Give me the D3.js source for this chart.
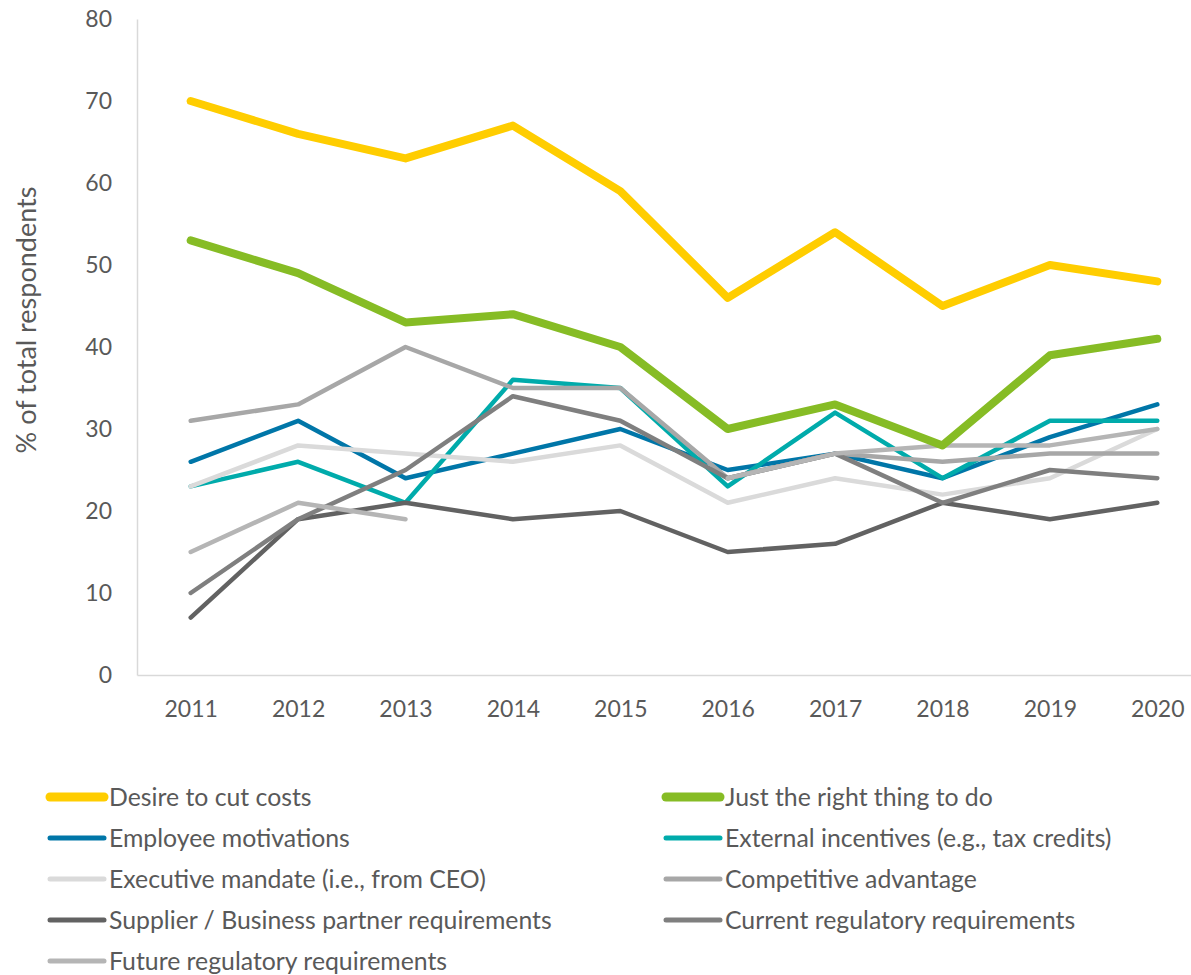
<!DOCTYPE html>
<html>
<head>
<meta charset="utf-8">
<script src="https://cdn.jsdelivr.net/npm/d3@7"></script>
<style>
  html, body { margin: 0; padding: 0; background: #fff; }
  svg { display: block; font-family: Lato, "Open Sans", sans-serif; }
</style>
</head>
<body>
<svg id="chart" width="1191" height="975"></svg>
<script>
const years = ["2011","2012","2013","2014","2015","2016","2017","2018","2019","2020"];
const yTicks = [0,10,20,30,40,50,60,70,80];
const seriesNames = [
  "Desire to cut costs",
  "Just the right thing to do",
  "Employee motivations",
  "External incentives (e.g., tax credits)",
  "Executive mandate (i.e., from CEO)",
  "Competitive advantage",
  "Supplier / Business partner requirements",
  "Current regulatory requirements",
  "Future regulatory requirements"
];
const desireToCutCosts   = [70, 66, 63, 67, 59, 46, 54, 45, 50, 48];
const rightThingToDo     = [53, 49, 43, 44, 40, 30, 33, 28, 39, 41];
const employeeMotivations= [26, 31, 24, 27, 30, 25, 27, 24, 29, 33];
const externalIncentives = [23, 26, 21, 36, 35, 23, 32, 24, 31, 31];
const executiveMandate   = [23, 28, 27, 26, 28, 21, 24, 22, 24, 30];
const competitiveAdv     = [31, 33, 40, 35, 35, 24, 27, 26, 27, 27];
const supplierReqs       = [7, 19, 21, 19, 20, 15, 16, 21, 19, 21];
const currentRegReqs     = [10, 19, 25, 34, 31, 24, 27, 21, 25, 24];
const futureRegReqs      = [15, 21, 19, null, null, 24, 27, 28, 28, 30];

const seriesValues = [desireToCutCosts, rightThingToDo, employeeMotivations, externalIncentives,
  executiveMandate, competitiveAdv, supplierReqs, currentRegReqs, futureRegReqs];
const colors = ["#FFCD00","#86BC25","#0076A8","#00ABAB","#DADADA","#A7A7A7","#626262","#7F7F7F","#B5B5B5"];
const widths = [8, 8, 4.5, 4.5, 4.5, 4.5, 4.5, 4.5, 4.5];

const svg = d3.select("#chart");
const x = d3.scalePoint().domain(years).range([137, 1211]).padding(0.5);
const y = d3.scaleLinear().domain([0, 80]).range([675, 19]);

// axes
const gy = svg.append("g").attr("transform", "translate(137,0)")
  .call(d3.axisLeft(y).tickValues(yTicks).tickSize(0).tickPadding(25));
gy.select(".domain").attr("stroke", "#D9D9D9").attr("stroke-width", 1.5);
gy.selectAll("text").attr("font-size", 23).attr("fill", "#595959").attr("font-family", "Lato, sans-serif");

const gx = svg.append("g").attr("transform", "translate(0,675)")
  .call(d3.axisBottom(x).tickSize(0).tickPadding(26));
gx.select(".domain").attr("stroke", "#D9D9D9").attr("stroke-width", 1.5);
gx.selectAll("text").attr("font-size", 23).attr("fill", "#595959").attr("font-family", "Lato, sans-serif");

svg.append("text")
  .attr("transform", "translate(36,320) rotate(-90)")
  .attr("text-anchor", "middle")
  .attr("font-size", 27).attr("fill", "#595959")
  .text("% of total respondents");

const line = d3.line()
  .defined(d => d.v !== null)
  .x(d => x(d.year)).y(d => y(d.v));

const order = [2,3,4,5,6,7,8,1,0];
order.forEach(i => {
  const data = years.map((yr, j) => ({year: yr, v: seriesValues[i][j]}));
  svg.append("path")
    .datum(data)
    .attr("fill", "none")
    .attr("stroke", colors[i])
    .attr("stroke-width", widths[i])
    .attr("stroke-linecap", "round")
    .attr("stroke-linejoin", "round")
    .attr("d", line);
});

// legend
const legend = svg.append("g");
seriesNames.forEach((name, i) => {
  const col = i % 2, row = Math.floor(i / 2);
  const lx = col === 0 ? 50 : 666;
  const ly = 797 + row * 41;
  legend.append("line")
    .attr("x1", lx).attr("x2", lx + 54)
    .attr("y1", ly).attr("y2", ly)
    .attr("stroke", colors[i])
    .attr("stroke-width", widths[i] === 8 ? 9 : 5)
    .attr("stroke-linecap", "round");
  legend.append("text")
    .attr("x", lx + 59).attr("y", ly)
    .attr("dy", "0.35em")
    .attr("font-size", 24.8).attr("fill", "#595959")
    .text(name);
});
</script>
</body>
</html>
